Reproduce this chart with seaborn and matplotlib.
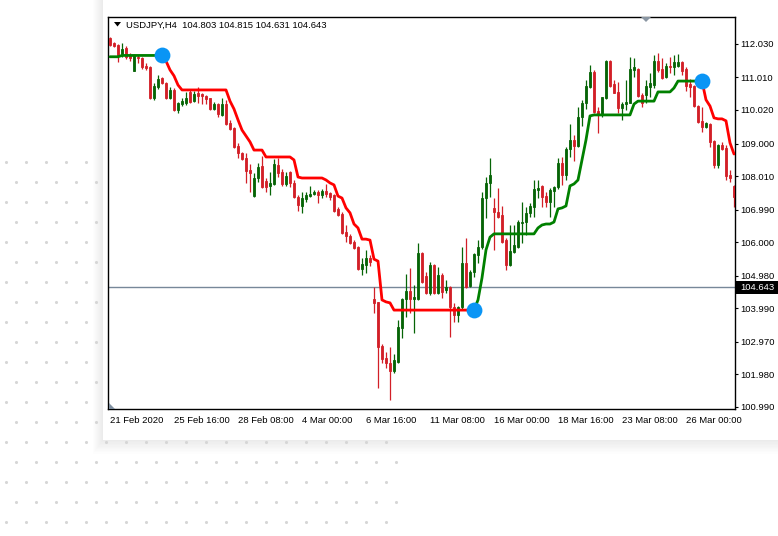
import matplotlib
matplotlib.use('Agg')
import matplotlib.pyplot as plt
import seaborn as sns
import numpy as np
from matplotlib.patches import Rectangle, Polygon

sns.set_style('white')
plt.rcParams['font.family'] = ['Liberation Sans', 'DejaVu Sans']

# USDJPY H4 candles, bar 0 = 21 Feb 2020 00:00
opens = [
    112.21, 112.06, 112.00, 111.69, 111.91, 111.69, 111.21, 111.63, 111.60, 111.36,
    111.33, 110.39, 110.72, 111.00, 110.84, 110.39, 110.63, 110.02, 110.20, 110.23,
    110.57, 110.29, 110.54, 110.51, 110.45, 110.39, 110.05, 110.20, 109.87, 110.20,
    109.63, 109.47, 108.93, 108.71, 108.56, 108.19, 107.40, 107.95, 108.32, 107.86,
    107.71, 107.77, 108.35, 108.13, 107.77, 108.13, 107.80, 107.37, 107.10, 107.31,
    107.40, 107.46, 107.52, 107.43, 107.55, 107.49, 107.43, 107.01, 106.85, 106.31,
    106.19, 106.00, 105.85, 105.18, 105.30, 105.52, 104.27, 104.18, 102.84, 102.47,
    102.32, 102.08, 102.35, 103.38, 104.27, 104.51, 104.27, 104.27, 105.67, 104.97,
    104.45, 105.30, 104.45, 105.00, 104.54, 104.63, 104.02, 103.78, 104.02, 105.36,
    104.66, 105.09, 105.61, 105.85, 107.34, 107.80, 107.04, 106.92, 106.82, 106.06,
    105.30, 105.70, 105.85, 106.58, 106.61, 106.89, 107.07, 107.58, 107.71, 107.40,
    107.22, 107.55, 107.68, 108.41, 108.04, 108.83, 109.11, 108.93, 109.81, 110.23,
    110.72, 111.18, 109.99, 109.90, 110.39, 111.51, 110.81, 110.57, 110.08, 110.20,
    110.23, 111.24, 111.27, 110.48, 110.48, 110.72, 110.78, 111.51, 111.27, 111.03,
    111.36, 111.33, 111.36, 111.48, 111.27, 110.81, 110.75, 110.14, 109.69, 109.50,
    109.59, 109.08, 108.35, 108.96, 108.86, 108.04, 107.71]
highs = [
    112.24, 112.09, 112.03, 112.06, 111.97, 111.76, 111.73, 111.69, 111.63, 111.45,
    111.36, 110.84, 111.09, 111.03, 110.87, 110.72, 110.69, 110.26, 110.39, 110.57,
    110.63, 110.60, 110.72, 110.54, 110.48, 110.40, 110.26, 110.23, 110.39, 110.33,
    109.72, 109.50, 109.02, 108.74, 108.71, 108.38, 108.10, 108.41, 108.62, 107.95,
    108.13, 108.53, 108.56, 108.22, 108.13, 108.16, 107.89, 107.43, 107.52, 107.52,
    107.71, 107.58, 107.58, 107.62, 107.77, 107.52, 107.46, 107.07, 106.92, 106.52,
    106.25, 106.06, 105.88, 105.52, 105.76, 105.61, 104.63, 104.19, 102.90, 102.65,
    102.81, 102.59, 103.63, 104.30, 105.03, 105.21, 104.69, 105.97, 105.70, 105.09,
    105.39, 105.33, 105.24, 105.06, 104.85, 104.66, 104.15, 104.05, 105.85, 106.12,
    105.15, 105.67, 106.06, 107.52, 107.98, 108.56, 107.34, 107.65, 107.10, 106.12,
    106.52, 106.52, 106.67, 107.22, 107.07, 107.19, 107.89, 107.89, 107.74, 107.52,
    107.65, 107.70, 108.56, 108.59, 108.89, 109.59, 109.26, 110.11, 110.33, 110.93,
    111.39, 111.24, 110.11, 110.43, 111.54, 111.54, 110.93, 110.87, 110.26, 110.93,
    111.63, 111.60, 111.30, 110.54, 110.93, 111.15, 111.69, 111.76, 111.60, 111.45,
    111.63, 111.69, 111.73, 111.51, 111.33, 110.96, 110.78, 110.17, 110.11, 109.66,
    109.62, 109.11, 108.99, 109.05, 108.96, 108.19, 107.74]
lows = [
    111.97, 111.94, 111.48, 111.63, 111.57, 111.51, 111.20, 111.45, 111.27, 111.24,
    110.36, 110.33, 110.66, 110.81, 110.36, 110.36, 109.99, 109.93, 110.14, 110.17,
    110.23, 110.26, 110.23, 110.20, 110.20, 110.02, 110.02, 109.81, 109.84, 109.56,
    109.41, 108.86, 108.56, 108.50, 107.80, 107.52, 107.37, 107.83, 107.65, 107.52,
    107.43, 107.74, 107.98, 107.71, 107.71, 107.68, 107.34, 106.95, 106.89, 107.22,
    107.37, 107.43, 107.19, 107.34, 107.37, 107.28, 106.92, 106.79, 106.25, 106.00,
    105.94, 105.79, 105.15, 105.00, 105.06, 105.27, 103.84, 101.56, 102.32, 102.17,
    101.19, 102.01, 102.32, 103.08, 103.72, 103.84, 103.23, 104.24, 104.75, 104.42,
    104.39, 104.42, 104.42, 104.30, 104.45, 103.11, 103.57, 103.57, 103.93, 104.60,
    104.63, 104.94, 105.36, 105.79, 106.73, 107.37, 105.76, 106.73, 105.97, 105.15,
    105.27, 105.67, 105.82, 105.97, 106.22, 106.76, 106.76, 107.34, 107.07, 107.07,
    106.76, 107.07, 107.62, 107.74, 107.89, 108.59, 108.47, 108.89, 109.53, 110.05,
    110.69, 109.93, 109.32, 109.81, 110.36, 110.72, 110.53, 109.93, 109.72, 110.02,
    110.22, 111.03, 110.42, 110.11, 110.23, 110.42, 110.69, 111.18, 110.96, 111.00,
    111.15, 111.09, 111.33, 111.09, 110.60, 110.42, 110.11, 109.62, 109.35, 109.47,
    108.89, 108.26, 108.26, 108.80, 107.89, 107.83, 107.07]
closes = [
    112.00, 111.97, 111.67, 111.88, 111.63, 111.60, 111.69, 111.59, 111.33, 111.31,
    110.39, 110.75, 110.96, 110.84, 110.39, 110.63, 110.02, 110.23, 110.29, 110.39,
    110.26, 110.51, 110.45, 110.45, 110.36, 110.05, 110.20, 109.90, 110.20, 109.60,
    109.44, 108.89, 108.71, 108.53, 108.16, 108.10, 107.95, 108.29, 107.68, 107.68,
    107.80, 108.38, 108.10, 107.77, 108.01, 107.80, 107.37, 107.13, 107.34, 107.43,
    107.46, 107.52, 107.43, 107.55, 107.46, 107.37, 106.95, 106.82, 106.28, 106.19,
    105.97, 105.82, 105.18, 105.33, 105.52, 105.39, 104.15, 102.81, 102.44, 102.32,
    102.08, 102.41, 103.41, 104.27, 104.51, 104.27, 104.33, 105.67, 104.78, 104.45,
    105.30, 104.45, 105.00, 104.48, 104.63, 104.02, 103.78, 104.02, 105.36, 104.63,
    105.09, 105.64, 105.85, 107.34, 107.80, 108.04, 106.92, 106.76, 106.00, 105.30,
    105.73, 105.91, 106.61, 106.61, 106.89, 107.10, 107.62, 107.65, 107.37, 107.22,
    107.58, 107.68, 108.41, 108.04, 108.83, 109.11, 108.93, 109.81, 110.23, 110.75,
    111.18, 109.96, 109.90, 110.42, 111.51, 110.75, 110.54, 110.08, 110.20, 110.26,
    111.27, 111.33, 110.45, 110.23, 110.75, 110.84, 111.51, 111.24, 111.00, 111.36,
    111.33, 111.48, 111.48, 111.21, 110.75, 110.72, 110.14, 109.66, 109.50, 109.62,
    109.05, 108.35, 108.96, 108.83, 108.01, 107.95, 107.37]

# trailing stop indicator, one value per bar
stop_line = [
    111.64, 111.64, 111.64, 111.68, 111.68, 111.68, 111.68, 111.68, 111.68, 111.68,
    111.68, 111.68, 111.68, 111.68, 111.51, 111.24, 111.06, 110.78, 110.63, 110.63,
    110.63, 110.63, 110.63, 110.63, 110.63, 110.63, 110.63, 110.63, 110.63, 110.63,
    110.29, 110.05, 109.72, 109.41, 109.23, 109.05, 108.80, 108.80, 108.80, 108.59,
    108.59, 108.59, 108.59, 108.59, 108.59, 108.59, 108.50, 107.98, 107.95, 107.95,
    107.95, 107.95, 107.95, 107.95, 107.89, 107.80, 107.74, 107.40, 107.34, 107.04,
    106.89, 106.55, 106.43, 106.09, 106.09, 106.06, 105.48, 105.42, 104.24, 104.18,
    104.15, 103.93, 103.93, 103.93, 103.93, 103.93, 103.93, 103.93, 103.93, 103.93,
    103.93, 103.93, 103.93, 103.93, 103.93, 103.93, 103.93, 103.93, 103.93, 103.93,
    103.93, 103.93, 104.24, 104.91, 105.76, 106.15, 106.25, 106.25, 106.25, 106.25,
    106.25, 106.25, 106.25, 106.25, 106.25, 106.25, 106.25, 106.43, 106.52, 106.55,
    106.55, 106.61, 107.01, 107.04, 107.10, 107.71, 107.77, 107.89, 108.50, 109.11,
    109.84, 109.87, 109.87, 109.87, 109.87, 109.87, 109.87, 109.87, 109.87, 109.87,
    109.87, 110.20, 110.29, 110.29, 110.29, 110.29, 110.29, 110.57, 110.57, 110.57,
    110.57, 110.69, 110.90, 110.90, 110.90, 110.90, 110.90, 110.90, 110.90, 110.33,
    110.14, 109.78, 109.75, 109.75, 109.69, 109.02, 108.68]
flip_bars = [13, 91, 148]
first_trend_up = True

price_ticks = [112.030, 111.010, 110.020, 109.000, 108.010, 106.990,
               106.000, 104.980, 103.990, 102.970, 101.980, 100.990]
date_bars = [0, 16, 32, 48, 64, 80, 96, 112, 128, 144]
date_labels = ['21 Feb 2020', '25 Feb 16:00', '28 Feb 08:00', '4 Mar 00:00',
               '6 Mar 16:00', '11 Mar 08:00', '16 Mar 00:00', '18 Mar 16:00',
               '23 Mar 08:00', '26 Mar 00:00']
last_price = 104.643
header = 'USDJPY,H4  104.803 104.815 104.631 104.643'

bull_col = '#066406'
bear_col = '#d21f27'
up_line = '#008000'
down_line = '#ff0000'

W, H = 778, 536
fig = plt.figure(figsize=(W / 100, H / 100), dpi=100)

# page background: dot pattern + white card with soft shadow
bg = fig.add_axes([0, 0, 1, 1])
bg.set_xlim(0, W)
bg.set_ylim(H, 0)
bg.axis('off')
for k in range(1, 11):
    bg.add_patch(Rectangle((103 - k, -20), W, 460 + int(k * 1.4), facecolor='black',
                           alpha=0.006, lw=0))
dx, dy = [], []
for r in range(19):
    y = 161.7 + 20 * r
    x0 = 6 if r % 2 == 0 else 16
    for x in np.arange(x0, 400, 20):
        dx.append(x)
        dy.append(y)
bg.scatter(dx, dy, s=5, color='#d6d6d6', lw=0)
bg.add_patch(Rectangle((103, -20), W, 460, facecolor='white', lw=0))

# chart
ax = fig.add_axes([108 / W, 1 - 409 / H, (735 - 108) / W, (409 - 17) / H])
n = len(closes)
bars = np.arange(n)
o = np.array(opens)
c = np.array(closes)
cols = [bull_col if c[i] >= o[i] else bear_col for i in range(n)]
ax.vlines(bars, lows, highs, colors=cols, lw=0.9, zorder=2)
ax.bar(bars, np.maximum(np.abs(c - o), 0.03), bottom=np.minimum(o, c), width=0.62,
       color=cols, edgecolor=cols, lw=0.6, zorder=3)

ax.axhline(last_price, color='#778899', lw=1, zorder=1)

stop = np.array(stop_line)
bounds = [0] + flip_bars + [n - 1]
for k in range(len(bounds) - 1):
    seg = np.arange(bounds[k], bounds[k + 1] + 1)
    is_up = (k % 2 == 0) == first_trend_up
    sns.lineplot(x=seg, y=stop[seg], ax=ax, color=up_line if is_up else down_line,
                 lw=2, estimator=None, sort=False, zorder=4)
sns.scatterplot(x=flip_bars, y=stop[flip_bars], ax=ax, s=130, color='#0a95f5',
                linewidth=0, zorder=6, legend=False)

ax.set_xlim(-0.5, 156.25)
ax.set_ylim(100.92, 112.85)
ax.yaxis.tick_right()
ax.set_yticks(price_ticks)
ax.set_yticklabels(['%.3f' % v for v in price_ticks])
ax.set_xticks(date_bars)
ax.set_xticklabels(date_labels, ha='left')
ax.tick_params(axis='both', length=2.5, width=0.8, color='black', labelsize=6.8,
               labelcolor='black', pad=1.5)
ax.tick_params(axis='x', pad=2.5)
ax.set_xlabel('')
ax.set_ylabel('')
for sp in ax.spines.values():
    sp.set_visible(True)
    sp.set_color('black')
    sp.set_linewidth(1)

# overlay details
top = fig.add_axes([0, 0, 1, 1], facecolor='none')
top.set_xlim(0, W)
top.set_ylim(H, 0)
top.axis('off')
top.add_patch(Polygon([(114, 22), (121, 22), (117.5, 26.5)], closed=True,
                      facecolor='black', lw=0))
top.text(126, 25, header, fontsize=6.8, va='center', ha='left', color='black')
top.add_patch(Polygon([(641, 17), (651, 17), (646, 22)], closed=True,
                      facecolor='#8a96a3', lw=0))
top.add_patch(Polygon([(109, 403), (109, 408.5), (115, 408.5)], closed=True,
                      facecolor='#7f8fa0', lw=0))
top.add_patch(Rectangle((736, 280.5), 42, 13, facecolor='black', lw=0))
top.text(740, 287.2, '%.3f' % last_price, fontsize=6.8, va='center', ha='left',
         color='white')

fig.savefig('out.png', dpi=100)
